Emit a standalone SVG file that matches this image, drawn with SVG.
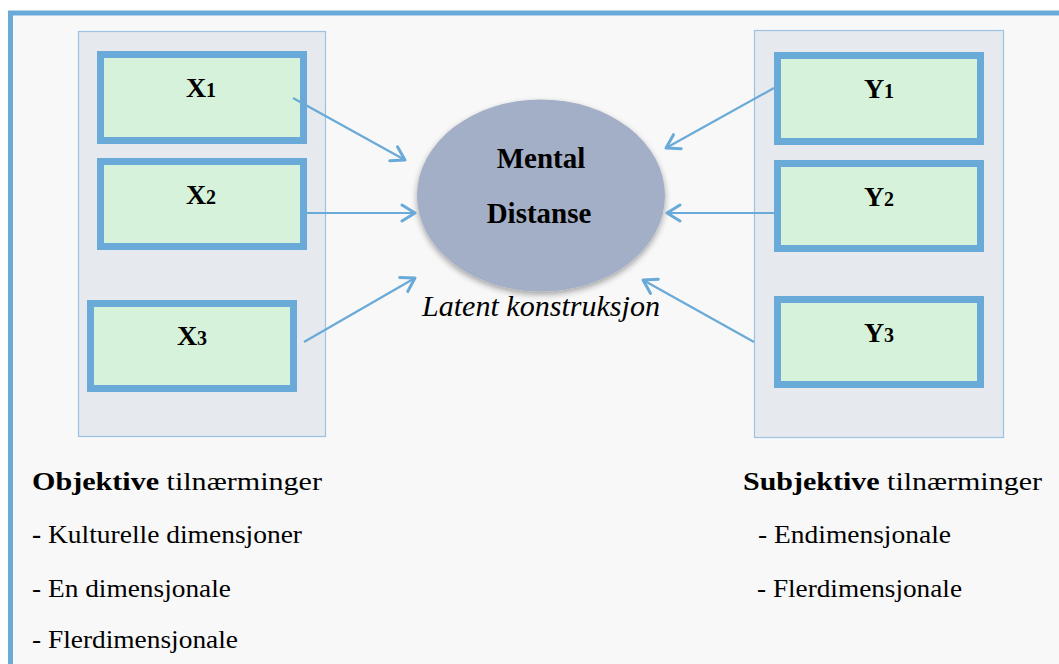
<svg xmlns="http://www.w3.org/2000/svg" width="1059" height="664" viewBox="0 0 1059 664">
<defs>
<style>
.panel{fill:#e6e9ee;stroke:#9cc3e6;stroke-width:1.2}
.box{fill:#d6f2da;stroke:#6aaad8;stroke-width:7}
.lbl{font-family:"Liberation Serif","Times New Roman",serif;font-weight:bold;font-size:28px;fill:#000}
.sub{font-size:20px}
.mid{font-family:"Liberation Serif","Times New Roman",serif;font-weight:bold;font-size:29px;fill:#000}
.lat{font-family:"Liberation Serif","Times New Roman",serif;font-style:italic;font-size:29px;fill:#000}
.conn{stroke:#6aaad8;stroke-width:2.2;fill:none;marker-end:url(#arr)}
.txt{font-family:"Liberation Serif","Times New Roman",serif;font-size:26px;fill:#000}
.b{font-weight:bold}
</style>
<marker id="arr" viewBox="0 0 20 20" refX="16" refY="10" markerWidth="20" markerHeight="20" markerUnits="userSpaceOnUse" orient="auto">
<path d="M3,2 L16,10 L3,18" fill="none" stroke="#6aaad8" stroke-width="3" stroke-linecap="round" stroke-linejoin="round"/>
</marker>
<filter id="sh" x="-20%" y="-20%" width="140%" height="140%">
<feGaussianBlur in="SourceAlpha" stdDeviation="3"/>
<feOffset dx="0" dy="3" result="b"/>
<feComponentTransfer><feFuncA type="linear" slope="0.35"/></feComponentTransfer>
<feMerge><feMergeNode/><feMergeNode in="SourceGraphic"/></feMerge>
</filter>
</defs>
<rect x="0" y="0" width="1059" height="664" fill="#ffffff"/>
<rect x="10.5" y="13" width="1060" height="660" fill="#f8f8f8" stroke="#6aaad8" stroke-width="5"/>
<g id="left-panel"><rect class="panel" x="78.5" y="31.5" width="247" height="405"/></g>
<g id="right-panel"><rect class="panel" x="754.5" y="30.5" width="249" height="407"/></g>
<g id="x1"><rect class="box" x="100.5" y="54.5" width="203" height="86"/><text class="lbl" x="201" y="97" text-anchor="middle">X<tspan class="sub">1</tspan></text></g>
<g id="x2"><rect class="box" x="100.5" y="161.5" width="203" height="85"/><text class="lbl" x="201" y="204" text-anchor="middle">X<tspan class="sub">2</tspan></text></g>
<g id="x3"><rect class="box" x="90.5" y="303.5" width="203" height="85"/><text class="lbl" x="192" y="345" text-anchor="middle">X<tspan class="sub">3</tspan></text></g>
<g id="y1"><rect class="box" x="777.5" y="55.5" width="203" height="86"/><text class="lbl" x="879" y="98" text-anchor="middle">Y<tspan class="sub">1</tspan></text></g>
<g id="y2"><rect class="box" x="777.5" y="163.5" width="203" height="85"/><text class="lbl" x="879" y="206" text-anchor="middle">Y<tspan class="sub">2</tspan></text></g>
<g id="y3"><rect class="box" x="777.5" y="299.5" width="203" height="85"/><text class="lbl" x="879" y="342" text-anchor="middle">Y<tspan class="sub">3</tspan></text></g>
<g id="mental">
<ellipse cx="541" cy="195.5" rx="124" ry="96" fill="#a3afc6" filter="url(#sh)"/>
<text class="mid" x="541" y="168" text-anchor="middle">Mental</text>
<text class="mid" x="539" y="223" text-anchor="middle">Distanse</text>
</g>
<g id="latent-label"><text class="lat" x="541" y="316" text-anchor="middle" textLength="238" lengthAdjust="spacingAndGlyphs">Latent konstruksjon</text></g>
<g id="connectors">
<line class="conn" x1="293" y1="98" x2="405" y2="160"/>
<line class="conn" x1="307" y1="213" x2="415" y2="213"/>
<line class="conn" x1="304" y1="342" x2="415" y2="278"/>
<line class="conn" x1="774" y1="88" x2="666" y2="148"/>
<line class="conn" x1="774" y1="213" x2="667" y2="213"/>
<line class="conn" x1="754" y1="342" x2="643" y2="280"/>
</g>
<g id="legend-left">
<text class="txt" x="32" y="490" textLength="290" lengthAdjust="spacingAndGlyphs"><tspan class="b">Objektive</tspan> tilnærminger</text>
<text class="txt" x="32" y="543" textLength="270" lengthAdjust="spacingAndGlyphs"><tspan class="b">-</tspan> Kulturelle dimensjoner</text>
<text class="txt" x="32" y="597" textLength="199" lengthAdjust="spacingAndGlyphs">- En dimensjonale</text>
<text class="txt" x="32" y="648" textLength="206" lengthAdjust="spacingAndGlyphs">- Flerdimensjonale</text>
</g>
<g id="legend-right">
<text class="txt" x="743" y="490" textLength="299" lengthAdjust="spacingAndGlyphs"><tspan class="b">Subjektive</tspan> tilnærminger</text>
<text class="txt" x="758" y="543" textLength="193" lengthAdjust="spacingAndGlyphs">- Endimensjonale</text>
<text class="txt" x="757" y="597" textLength="205" lengthAdjust="spacingAndGlyphs">- Flerdimensjonale</text>
</g>
</svg>
